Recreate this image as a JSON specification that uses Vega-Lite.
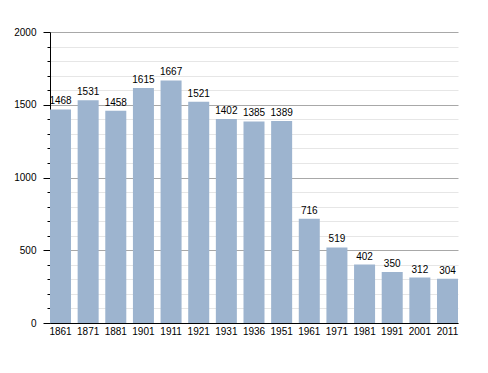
{
  "$schema": "https://vega.github.io/schema/vega-lite/v6.json",
  "width": 408,
  "height": 291,
  "autosize": {"type": "none"},
  "padding": {"left": 50, "top": 32, "right": 30, "bottom": 50},
  "background": "white",
  "config": {
    "view": {"stroke": null},
    "font": "Liberation Sans",
    "axis": {"labelFont": "Liberation Sans", "labelFontSize": 10, "labelColor": "black"}
  },
  "data": {
    "values": [
      {"year": "1861", "pop": 1468},
      {"year": "1871", "pop": 1531},
      {"year": "1881", "pop": 1458},
      {"year": "1901", "pop": 1615},
      {"year": "1911", "pop": 1667},
      {"year": "1921", "pop": 1521},
      {"year": "1931", "pop": 1402},
      {"year": "1936", "pop": 1385},
      {"year": "1951", "pop": 1389},
      {"year": "1961", "pop": 716},
      {"year": "1971", "pop": 519},
      {"year": "1981", "pop": 402},
      {"year": "1991", "pop": 350},
      {"year": "2001", "pop": 312},
      {"year": "2011", "pop": 304}
    ]
  },
  "encoding": {
    "x": {
      "field": "year", "type": "ordinal", "sort": null,
      "scale": {"paddingInner": 0.24, "paddingOuter": 0},
      "axis": {"title": null, "labelAngle": 0, "ticks": false, "domainColor": "black", "labelPadding": 3}
    },
    "y": {
      "field": "pop", "type": "quantitative",
      "scale": {"domain": [0, 2000], "nice": false},
      "axis": {
        "title": null,
        "values": [0,100,200,300,400,500,600,700,800,900,1000,1100,1200,1300,1400,1500,1600,1700,1800,1900,2000],
        "labelExpr": "datum.value % 500 === 0 ? datum.label : ''",
        "format": "d",
        "domainColor": "black",
        "tickColor": "black",
        "tickSize": {"condition": {"test": "datum.value % 500 === 0", "value": 7}, "value": 3},
        "labelPadding": 7,
        "gridColor": {"condition": {"test": "datum.value % 500 === 0", "value": "#a8a8a8"}, "value": "#e6e6e6"},
        "labelFlush": false
      }
    }
  },
  "layer": [
    {"mark": {"type": "bar", "color": "#9db4cf"}},
    {
      "mark": {"type": "text", "baseline": "bottom", "dy": -3, "fontSize": 10, "color": "black"},
      "encoding": {"text": {"field": "pop", "type": "quantitative"}}
    }
  ]
}
